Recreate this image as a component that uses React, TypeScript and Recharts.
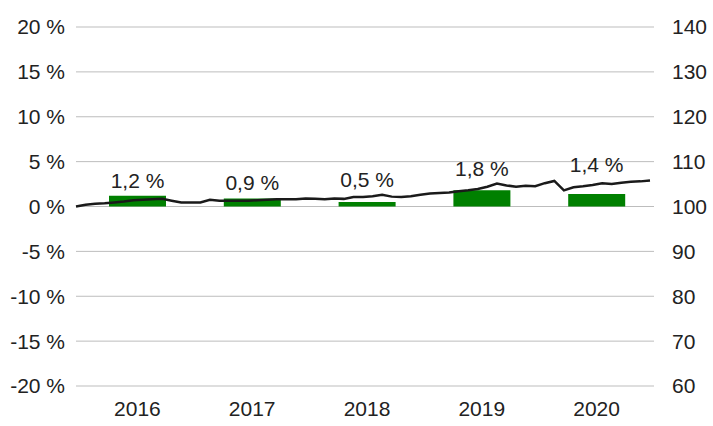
import { Bar, CartesianGrid, ComposedChart, LabelList, Line, XAxis, YAxis } from 'recharts';

const years = ['2016', '2017', '2018', '2019', '2020'];
const yearlyGrowth = [1.2, 0.9, 0.5, 1.8, 1.4];

// monthly index, start of 2016 = 100
const monthlyIndex = [
  100.0, 100.4, 100.6, 100.7, 100.9, 101.1, 101.4, 101.5, 101.6, 101.7, 101.3, 100.9,
  100.9, 100.9, 101.5, 101.3, 101.3, 101.3, 101.3, 101.4, 101.5, 101.6, 101.6, 101.6,
  101.8, 101.7, 101.6, 101.8, 101.7, 102.1, 102.1, 102.3, 102.6, 102.2, 102.1, 102.3,
  102.6, 102.9, 103.0, 103.1, 103.4, 103.6, 103.9, 104.4, 105.1, 104.7, 104.4, 104.6,
  104.5, 105.2, 105.7, 103.6, 104.3, 104.5, 104.8, 105.2, 105.0, 105.3, 105.5, 105.6,
  105.8,
];

const pctTicks = [-20, -15, -10, -5, 0, 5, 10, 15, 20];
const indexTicks = [60, 70, 80, 90, 100, 110, 120, 130, 140];

const yearTicks = years.map((_, i) => i * 12 + 6);

const yearData = years.map((year, i) => ({
  m: yearTicks[i],
  year,
  pct: yearlyGrowth[i],
  yearMax: Math.max(...monthlyIndex.slice(i * 12, i * 12 + 13)),
}));

const monthData = monthlyIndex.map((idx, m) => ({ m, idx }));

const FONT = '"Liberation Sans", Arial, Helvetica, sans-serif';
const TEXT = '#222';
const FS = 21;
const fmtPct = (v: number) => `${String(v).replace('.', ',')} %`;

const pctSpan = pctTicks[pctTicks.length - 1] - pctTicks[0];
const idxSpan = indexTicks[indexTicks.length - 1] - indexTicks[0];

function BarLabel(props: any) {
  const { x, y, width, height, value } = props;
  if (value == null || !height) return null;
  const zeroY = y + height;
  const pxPerPct = height / value.pct;
  const pxPerIdx = (pxPerPct * pctSpan) / idxSpan;
  const lineTop = zeroY - (value.yearMax - 100) * pxPerIdx;
  const base = Math.min(y, lineTop) - 8;
  return (
    <text x={x + width / 2} y={base} textAnchor="middle" fontSize={FS} fill={TEXT} fontFamily={FONT}>
      {fmtPct(value.pct)}
    </text>
  );
}

export default function App() {
  return (
    <div style={{ position: 'absolute', left: 0, top: 0, background: '#fff' }}>
      <ComposedChart
        width={713}
        height={426}
        data={yearData}
        margin={{ top: 27, right: 0, bottom: 0, left: 0 }}
        style={{ fontFamily: FONT }}
      >
        <CartesianGrid xAxisId="year" yAxisId="left" vertical={false} stroke="#bdbdbd" strokeWidth={1} />
        <XAxis
          xAxisId="year"
          dataKey="m"
          type="number"
          domain={[0, 60]}
          ticks={yearTicks}
          tickFormatter={(v: number) => years[(v - 6) / 12]}
          padding={{ left: 4, right: 0 }}
          axisLine={false}
          tickLine={false}
          tickSize={0}
          tickMargin={15}
          height={40}
          tick={{ fontSize: FS, fill: TEXT, fontFamily: FONT }}
        />
        <XAxis
          xAxisId="month"
          dataKey="m"
          type="number"
          domain={[0, 60]}
          padding={{ left: 0, right: 4 }}
          hide
          height={0}
        />
        <YAxis
          yAxisId="left"
          domain={[-20, 20]}
          ticks={pctTicks}
          tickFormatter={(v: number) => `${v} %`}
          axisLine={false}
          tickLine={false}
          tickSize={0}
          tickMargin={11}
          width={76}
          tick={{ fontSize: FS, fill: TEXT, fontFamily: FONT }}
        />
        <YAxis
          yAxisId="right"
          orientation="right"
          domain={[60, 140]}
          ticks={indexTicks}
          axisLine={false}
          tickLine={false}
          tickSize={0}
          tickMargin={18}
          width={59}
          tick={{ fontSize: FS, fill: TEXT, fontFamily: FONT, textAnchor: 'start' }}
        />
        <Bar xAxisId="year" yAxisId="left" dataKey="pct" fill="#008000" barSize={57} isAnimationActive={false}>
          <LabelList
            dataKey={(d: any) => ({ pct: d.pct, yearMax: d.yearMax })}
            content={BarLabel}
          />
        </Bar>
        <Line
          data={monthData}
          xAxisId="month"
          yAxisId="right"
          dataKey="idx"
          type="linear"
          stroke="#1a1a1a"
          strokeWidth={2.5}
          dot={false}
          activeDot={false}
          isAnimationActive={false}
        />
      </ComposedChart>
    </div>
  );
}
